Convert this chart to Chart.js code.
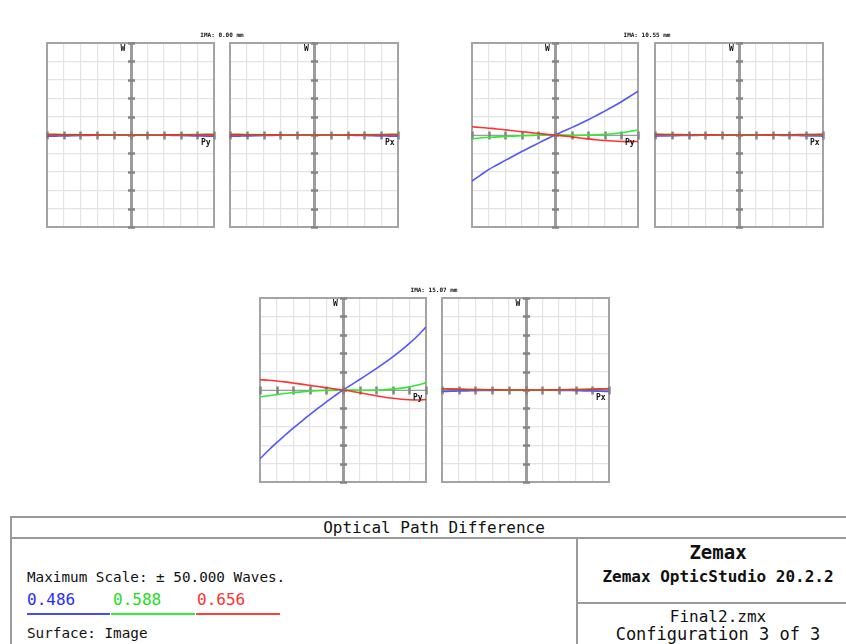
<!DOCTYPE html>
<html>
<head>
<meta charset="utf-8">
<title>Optical Path Difference</title>
<script src="https://cdn.jsdelivr.net/npm/chart.js@4.4.1/dist/chart.umd.min.js"></script>
<style>
  html, body { margin: 0; padding: 0; background: #fff; }
  body { width: 846px; height: 644px; position: relative; overflow: hidden; font-family: "DejaVu Sans Mono", monospace; }
  .plot { position: absolute; }
  .plot canvas { position: absolute; left: 0; top: 0; }
  .ttl { position: absolute; font: bold 6px "DejaVu Sans Mono", monospace; color: #111; transform: translateX(-50%); white-space: nowrap; }
  .lbl { position: absolute; font: bold 8px "DejaVu Sans Mono", monospace; color: #111; white-space: nowrap; }
  .hl { position: absolute; height: 2px; background: #9a9a9a; }
  .vl { position: absolute; width: 2px; background: #9a9a9a; }
  .ul { position: absolute; height: 1.5px; }
  .tx { position: absolute; white-space: nowrap; color: #111; line-height: 1; }
  .ctr { transform: translateX(-50%); }
</style>
</head>
<body>

<script>
// pupil coordinate (Py or Px), -1 .. 1
const pupil = [-1, -0.9, -0.8, -0.7, -0.6, -0.5, -0.4, -0.3, -0.2, -0.1, 0,
               0.1, 0.2, 0.3, 0.4, 0.5, 0.6, 0.7, 0.8, 0.9, 1];

const fieldTitles = ['IMA: 0.00 mm', 'IMA: 10.55 mm', 'IMA: 15.07 mm'];
const wavelengths = ['0.486', '0.588', '0.656'];
const maxScale = 50;   // waves

// field 1 (on axis), tangential and sagittal are the same
const f1TanBlue  = [-0.7, -0.6, -0.5, -0.4, -0.3, -0.2, -0.15, -0.1, -0.05, 0, 0, 0, -0.05, -0.1, -0.15, -0.2, -0.3, -0.4, -0.5, -0.6, -0.7];
const f1TanGreen = [0.4, 0.35, 0.3, 0.25, 0.2, 0.15, 0.1, 0.05, 0.02, 0, 0, 0, 0.02, 0.05, 0.1, 0.15, 0.2, 0.25, 0.3, 0.35, 0.4];
const f1TanRed   = [0.2, 0.18, 0.15, 0.12, 0.1, 0.08, 0.05, 0.03, 0.01, 0, 0, 0, 0.01, 0.03, 0.05, 0.08, 0.1, 0.12, 0.15, 0.18, 0.2];
const f1SagBlue  = f1TanBlue;
const f1SagGreen = f1TanGreen;
const f1SagRed   = f1TanRed;

// field 2
const f2TanBlue  = [-25.0, -21.9, -18.8, -16.3, -13.8, -11.4, -9.0, -6.7, -4.4, -2.2, 0,
                    2.0, 4.0, 6.1, 8.3, 10.6, 13.0, 15.5, 18.1, 20.9, 23.8];
const f2TanGreen = [-2.0, -1.6, -1.3, -1.0, -0.8, -0.6, -0.4, -0.25, -0.1, -0.05, 0,
                    -0.05, -0.1, -0.1, -0.05, 0.1, 0.35, 0.7, 1.2, 1.9, 2.7];
const f2TanRed   = [4.5, 4.1, 3.7, 3.3, 2.8, 2.3, 1.8, 1.3, 0.85, 0.4, 0,
                    -0.5, -1.0, -1.6, -2.1, -2.6, -3.0, -3.3, -3.5, -3.6, -3.5];
const f2SagBlue  = [-0.6, -0.5, -0.4, -0.3, -0.25, -0.2, -0.12, -0.08, -0.04, 0, 0, 0, -0.04, -0.08, -0.12, -0.2, -0.25, -0.3, -0.4, -0.5, -0.6];
const f2SagGreen = [0.3, 0.25, 0.2, 0.15, 0.12, 0.1, 0.06, 0.04, 0.02, 0, 0, 0, 0.02, 0.04, 0.06, 0.1, 0.12, 0.15, 0.2, 0.25, 0.3];
const f2SagRed   = [0.35, 0.3, 0.25, 0.2, 0.15, 0.12, 0.08, 0.05, 0.02, 0, 0, 0, 0.02, 0.05, 0.08, 0.12, 0.15, 0.2, 0.25, 0.3, 0.35];

// field 3
const f3TanBlue  = [-37.4, -32.9, -28.6, -24.6, -20.7, -17.0, -13.4, -9.9, -6.5, -3.2, 0,
                    2.8, 5.7, 8.6, 11.6, 14.7, 18.0, 21.5, 25.3, 29.5, 34.2];
const f3TanGreen = [-3.8, -3.1, -2.5, -1.9, -1.4, -1.0, -0.65, -0.4, -0.2, -0.05, 0,
                    -0.05, -0.1, -0.1, -0.05, 0.15, 0.5, 1.0, 1.7, 2.7, 4.0];
const f3TanRed   = [5.6, 5.3, 4.9, 4.4, 3.8, 3.2, 2.5, 1.9, 1.2, 0.6, 0,
                    -0.7, -1.5, -2.3, -3.1, -3.9, -4.5, -5.0, -5.3, -5.4, -5.2];
const f3SagBlue  = [-0.8, -0.7, -0.55, -0.45, -0.35, -0.25, -0.18, -0.1, -0.05, 0, 0, 0, -0.05, -0.1, -0.18, -0.25, -0.35, -0.45, -0.55, -0.7, -0.8];
const f3SagGreen = [0.8, 0.6, 0.45, 0.35, 0.25, 0.18, 0.12, 0.07, 0.03, 0, 0, 0, 0.03, 0.07, 0.12, 0.18, 0.25, 0.35, 0.45, 0.6, 0.8];
const f3SagRed   = [0.6, 0.5, 0.4, 0.3, 0.22, 0.15, 0.1, 0.05, 0.02, 0, 0, 0, 0.02, 0.05, 0.1, 0.15, 0.22, 0.3, 0.4, 0.5, 0.6];

const blueCol  = 'rgb(85,85,255)';
const greenCol = 'rgb(50,235,50)';
const redCol   = 'rgba(255,30,30,0.9)';

// plot boxes on the page
const plots = [
  { left: 47,  top: 43,  w: 167, h: 184, axis: 'Py', sets: [f1TanBlue, f1TanGreen, f1TanRed] },
  { left: 230, top: 43,  w: 168, h: 184, axis: 'Px', sets: [f1SagBlue, f1SagGreen, f1SagRed] },
  { left: 472, top: 43,  w: 166, h: 184, axis: 'Py', sets: [f2TanBlue, f2TanGreen, f2TanRed] },
  { left: 655, top: 43,  w: 168, h: 184, axis: 'Px', sets: [f2SagBlue, f2SagGreen, f2SagRed] },
  { left: 260, top: 298, w: 166, h: 184, axis: 'Py', sets: [f3TanBlue, f3TanGreen, f3TanRed] },
  { left: 442, top: 298, w: 167, h: 184, axis: 'Px', sets: [f3SagBlue, f3SagGreen, f3SagRed] }
];

const titles = [
  { text: fieldTitles[0], x: 222, y: 31 },
  { text: fieldTitles[1], x: 647, y: 31 },
  { text: fieldTitles[2], x: 434, y: 286 }
];

// frame, centre axes and their tick marks
const axesPlugin = {
  id: 'opdAxes',
  beforeDatasetsDraw(chart) {
    const { ctx, chartArea: a, scales: { x, y } } = chart;
    const x0 = Math.round(x.getPixelForValue(0)) + 0.5;
    const y0 = Math.round(y.getPixelForValue(0)) + 0.5;
    ctx.save();
    ctx.strokeStyle = '#a4a4a4';
    ctx.lineWidth = 2;
    ctx.strokeRect(a.left, a.top, a.right - a.left, a.bottom - a.top);

    ctx.strokeStyle = '#9c9c9c';
    ctx.lineWidth = 3;
    ctx.beginPath();
    ctx.moveTo(x0, a.top);
    ctx.lineTo(x0, a.bottom);
    ctx.stroke();
    ctx.lineWidth = 1.2;
    ctx.beginPath();
    ctx.moveTo(a.left, y0);
    ctx.lineTo(a.right, y0);
    ctx.stroke();

    ctx.strokeStyle = '#858585';
    ctx.lineWidth = 2.5;
    for (let v = -maxScale; v <= maxScale; v += 10) {
      const py = Math.round(y.getPixelForValue(v)) + 0.5;
      ctx.beginPath();
      ctx.moveTo(x0 - 3.5, py);
      ctx.lineTo(x0 + 3.5, py);
      ctx.stroke();
    }
    for (let i = -5; i <= 5; i++) {
      const px = Math.round(x.getPixelForValue(i / 5)) + 0.5;
      ctx.beginPath();
      ctx.moveTo(px, y0 - 4);
      ctx.lineTo(px, y0 + 4);
      ctx.stroke();
    }
    ctx.restore();
  }
};

function series(values, color) {
  return {
    data: values.map((v, i) => ({ x: pupil[i], y: v })),
    borderColor: color,
    borderWidth: 1.6,
    pointRadius: 0,
    tension: 0.3,
    fill: false
  };
}

const pad = 2;
plots.forEach(p => {
  const box = document.createElement('div');
  box.className = 'plot';
  box.style.left = (p.left - pad) + 'px';
  box.style.top = (p.top - pad) + 'px';
  box.style.width = (p.w + 2 * pad) + 'px';
  box.style.height = (p.h + 2 * pad) + 'px';
  const cv = document.createElement('canvas');
  cv.width = p.w + 2 * pad;
  cv.height = p.h + 2 * pad;
  box.appendChild(cv);
  document.body.appendChild(box);

  const chart = new Chart(cv, {
    type: 'line',
    data: {
      // red drawn last so it sits on top
      datasets: [
        series(p.sets[2], redCol),
        series(p.sets[1], greenCol),
        series(p.sets[0], blueCol)
      ]
    },
    options: {
      responsive: false,
      animation: false,
      devicePixelRatio: 1,
      layout: { padding: pad },
      plugins: { legend: { display: false }, tooltip: { enabled: false } },
      scales: {
        x: {
          type: 'linear', min: -1, max: 1,
          ticks: { display: false, stepSize: 0.2 },
          grid: { color: '#e4e4e4', lineWidth: 1.2, drawTicks: false },
          border: { display: false }
        },
        y: {
          type: 'linear', min: -maxScale, max: maxScale,
          ticks: { display: false, stepSize: 10 },
          grid: { color: '#e4e4e4', lineWidth: 1.2, drawTicks: false },
          border: { display: false }
        }
      }
    },
    plugins: [axesPlugin]
  });

  // W and Py/Px labels placed from the scales
  const x0 = chart.scales.x.getPixelForValue(0);
  const y0 = chart.scales.y.getPixelForValue(0);
  const w = document.createElement('span');
  w.className = 'lbl';
  w.textContent = 'W';
  w.style.left = (x0 - 10) + 'px';
  w.style.top = (chart.chartArea.top + 1) + 'px';
  box.appendChild(w);
  const ax = document.createElement('span');
  ax.className = 'lbl';
  ax.textContent = p.axis;
  ax.style.left = (chart.chartArea.right - 13) + 'px';
  ax.style.top = (y0 + 3) + 'px';
  box.appendChild(ax);
});

titles.forEach(t => {
  const d = document.createElement('div');
  d.className = 'ttl';
  d.textContent = t.text;
  d.style.left = t.x + 'px';
  d.style.top = t.y + 'px';
  document.body.appendChild(d);
});
</script>

<!-- information box -->
<div class="hl" style="left:10px; top:516px; width:840px;"></div>
<div class="hl" style="left:10px; top:537px; width:840px;"></div>
<div class="vl" style="left:10px; top:516px; height:130px;"></div>
<div class="vl" style="left:576px; top:537px; height:110px;"></div>
<div class="hl" style="left:576px; top:602px; width:272px;"></div>

<div class="tx ctr" style="left:434px; top:520px; font-size:16px;">Optical Path Difference</div>
<div class="tx" style="left:27px; top:570px; font-size:14.3px;">Maximum Scale: ± 50.000 Waves.</div>
<div class="tx" style="left:27px; top:592px; font-size:16px; color:#2a2aff;" id="w1"></div>
<div class="tx" style="left:113px; top:592px; font-size:16px; color:#22dd22;" id="w2"></div>
<div class="tx" style="left:197px; top:592px; font-size:16px; color:#ff3030;" id="w3"></div>
<div class="ul" style="left:27px; top:613px; width:83px; background:#4848ff;"></div>
<div class="ul" style="left:111px; top:613px; width:84px; background:#33ee33;"></div>
<div class="ul" style="left:196px; top:613px; width:84px; background:#ff4040;"></div>
<div class="tx" style="left:27px; top:626px; font-size:14.3px;">Surface: Image</div>

<div class="tx ctr" style="left:718px; top:543px; font-size:19px; font-weight:bold;">Zemax</div>
<div class="tx ctr" style="left:718px; top:569px; font-size:16px; font-weight:bold;">Zemax OpticStudio 20.2.2</div>
<div class="tx ctr" style="left:718px; top:609px; font-size:16px;">Final2.zmx</div>
<div class="tx ctr" style="left:718px; top:626px; font-size:17px;">Configuration 3 of 3</div>

<script>
  document.getElementById('w1').textContent = wavelengths[0];
  document.getElementById('w2').textContent = wavelengths[1];
  document.getElementById('w3').textContent = wavelengths[2];
</script>
</body>
</html>
